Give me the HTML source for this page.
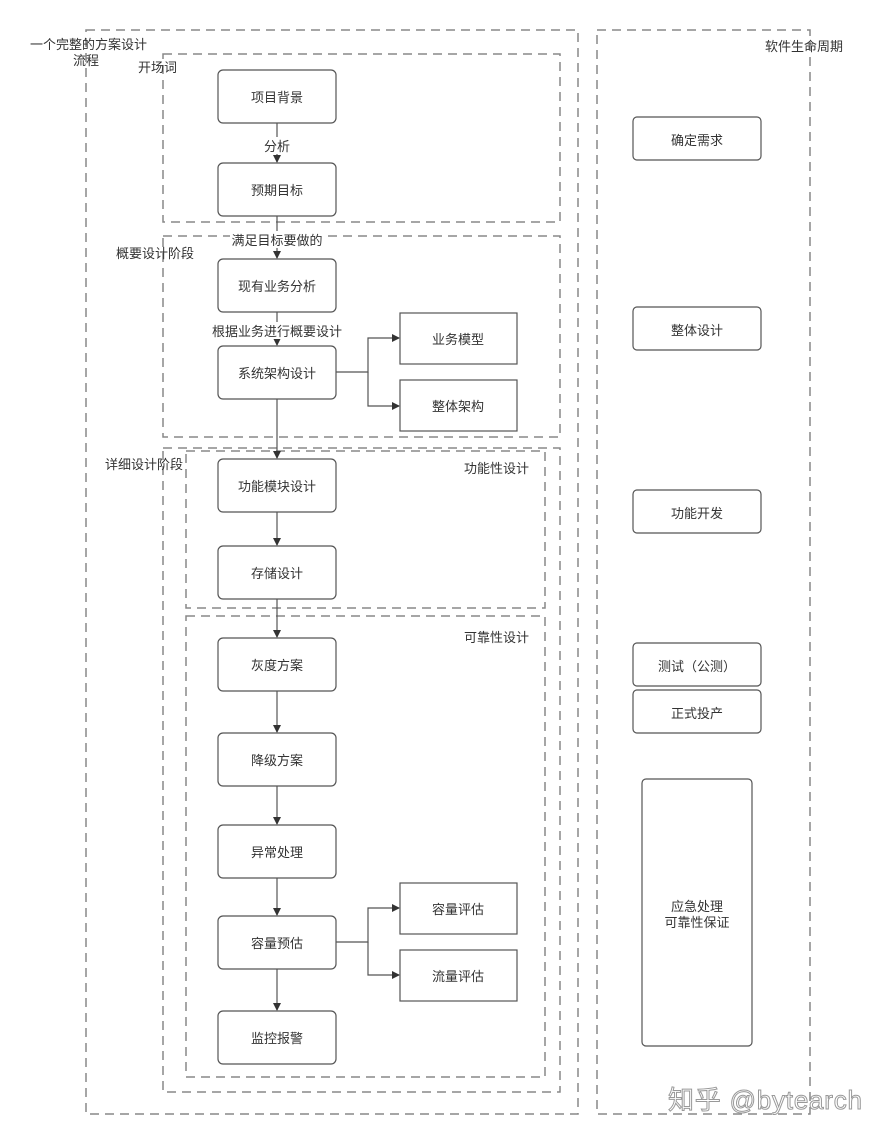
<!DOCTYPE html>
<html><head><meta charset="utf-8"><style>
html,body{margin:0;padding:0;background:#fff;}
svg{display:block;}
text{font-family:"Liberation Sans","Noto Sans CJK SC",sans-serif;font-size:13px;fill:#333;}
.d{fill:none;stroke:#888;stroke-width:1.5;stroke-dasharray:9 6;}
.b{fill:#fff;stroke:#555;stroke-width:1.2;}
.l{stroke:#555;stroke-width:1.2;fill:none;}
</style></head><body>
<svg width="889" height="1140" viewBox="0 0 889 1140" xmlns="http://www.w3.org/2000/svg">
<defs><marker id="a" markerWidth="8" markerHeight="8" refX="7" refY="4" orient="auto" markerUnits="userSpaceOnUse"><path d="M0,0 L8,4 L0,8 z" fill="#333"/></marker></defs>
<rect class="d" x="86" y="30" width="492" height="1084"/>
<rect class="d" x="597" y="30" width="213" height="1084"/>
<rect class="d" x="163" y="54" width="397" height="168"/>
<rect class="d" x="163" y="236" width="397" height="201"/>
<rect class="d" x="163" y="448" width="397" height="644"/>
<rect class="d" x="186" y="451" width="359" height="157"/>
<rect class="d" x="186" y="616" width="359" height="461"/>

<g class="l">
<line x1="277" y1="123" x2="277" y2="162" marker-end="url(#a)"/>
<line x1="277" y1="216" x2="277" y2="258" marker-end="url(#a)"/>
<line x1="277" y1="312" x2="277" y2="345" marker-end="url(#a)"/>
<line x1="277" y1="399" x2="277" y2="458" marker-end="url(#a)"/>
<line x1="277" y1="512" x2="277" y2="545" marker-end="url(#a)"/>
<line x1="277" y1="599" x2="277" y2="637" marker-end="url(#a)"/>
<line x1="277" y1="691" x2="277" y2="732" marker-end="url(#a)"/>
<line x1="277" y1="786" x2="277" y2="824" marker-end="url(#a)"/>
<line x1="277" y1="878" x2="277" y2="915" marker-end="url(#a)"/>
<line x1="277" y1="969" x2="277" y2="1010" marker-end="url(#a)"/>
<polyline points="336,372 368,372 368,338 399,338" marker-end="url(#a)"/>
<polyline points="368,372 368,406 399,406" marker-end="url(#a)"/>
<polyline points="336,942 368,942 368,908 399,908" marker-end="url(#a)"/>
<polyline points="368,942 368,975 399,975" marker-end="url(#a)"/>
</g>
<rect x="262" y="137" width="30" height="17" fill="#fff"/>
<text x="277" y="151" text-anchor="middle">分析</text>
<rect x="230" y="231" width="94" height="17" fill="#fff"/>
<text x="277" y="245" text-anchor="middle">满足目标要做的</text>
<rect x="210" y="322" width="134" height="17" fill="#fff"/>
<text x="277" y="336" text-anchor="middle">根据业务进行概要设计</text>

<g>
<rect class="b" x="218" y="70" width="118" height="53" rx="5"/><text x="277" y="102" text-anchor="middle">项目背景</text>
<rect class="b" x="218" y="163" width="118" height="53" rx="5"/><text x="277" y="195" text-anchor="middle">预期目标</text>
<rect class="b" x="218" y="259" width="118" height="53" rx="5"/><text x="277" y="291" text-anchor="middle">现有业务分析</text>
<rect class="b" x="218" y="346" width="118" height="53" rx="5"/><text x="277" y="378" text-anchor="middle">系统架构设计</text>
<rect class="b" x="218" y="459" width="118" height="53" rx="5"/><text x="277" y="491" text-anchor="middle">功能模块设计</text>
<rect class="b" x="218" y="546" width="118" height="53" rx="5"/><text x="277" y="578" text-anchor="middle">存储设计</text>
<rect class="b" x="218" y="638" width="118" height="53" rx="5"/><text x="277" y="670" text-anchor="middle">灰度方案</text>
<rect class="b" x="218" y="733" width="118" height="53" rx="5"/><text x="277" y="765" text-anchor="middle">降级方案</text>
<rect class="b" x="218" y="825" width="118" height="53" rx="5"/><text x="277" y="857" text-anchor="middle">异常处理</text>
<rect class="b" x="218" y="916" width="118" height="53" rx="5"/><text x="277" y="948" text-anchor="middle">容量预估</text>
<rect class="b" x="218" y="1011" width="118" height="53" rx="5"/><text x="277" y="1043" text-anchor="middle">监控报警</text>

<rect class="b" x="400" y="313" width="117" height="51"/><text x="458" y="344" text-anchor="middle">业务模型</text>
<rect class="b" x="400" y="380" width="117" height="51"/><text x="458" y="411" text-anchor="middle">整体架构</text>
<rect class="b" x="400" y="883" width="117" height="51"/><text x="458" y="914" text-anchor="middle">容量评估</text>
<rect class="b" x="400" y="950" width="117" height="51"/><text x="458" y="981" text-anchor="middle">流量评估</text>

<rect class="b" x="633" y="117" width="128" height="43" rx="4"/><text x="697" y="145" text-anchor="middle">确定需求</text>
<rect class="b" x="633" y="307" width="128" height="43" rx="4"/><text x="697" y="335" text-anchor="middle">整体设计</text>
<rect class="b" x="633" y="490" width="128" height="43" rx="4"/><text x="697" y="518" text-anchor="middle">功能开发</text>
<rect class="b" x="633" y="643" width="128" height="43" rx="4"/><text x="697" y="671" text-anchor="middle">测试（公测）</text>
<rect class="b" x="633" y="690" width="128" height="43" rx="4"/><text x="697" y="718" text-anchor="middle">正式投产</text>
<rect class="b" x="642" y="779" width="110" height="267" rx="4"/>
<text x="697" y="911" text-anchor="middle">应急处理</text>
<text x="697" y="927" text-anchor="middle">可靠性保证</text>
</g>

<text x="30" y="49">一个完整的方案设计</text>
<text x="73" y="65">流程</text>
<text x="138" y="72">开场词</text>
<text x="116" y="258">概要设计阶段</text>
<text x="105" y="469">详细设计阶段</text>
<text x="464" y="473">功能性设计</text>
<text x="464" y="642">可靠性设计</text>
<text x="765" y="51">软件生命周期</text>
<text x="668" y="1109" textLength="194" style="font-size:26px;fill:#fff;stroke:#999;stroke-width:1">知乎 @bytearch</text>
</svg>
</body></html>
